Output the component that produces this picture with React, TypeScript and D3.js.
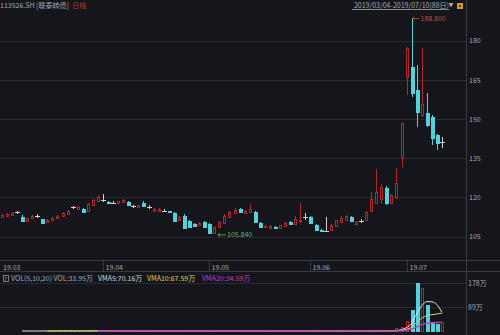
import React from "react";
import * as d3 from "d3";

const W = 500;
const H = 335;

const monthLabels = ["19.03", "19.04", "19.05", "19.06", "19.07"];
const monthStartIdx = [0, 20, 41, 61, 80];
const priceTicks = [105, 120, 135, 150, 165, 180];
const volTicks = [89, 178];
const volTickLabels = ["89万", "178万"];

const open = [
  112.5, 113.0, 113.4, 114.3, 112.6, 111.0, 112.0, 112.9, 111.6, 110.5,
  111.2, 112.0, 113.0, 113.8, 116.2, 115.5, 115.4, 114.8, 117.0, 118.6,
  119.0, 118.4, 117.9, 117.7, 118.3, 118.3, 116.6, 116.4, 118.0, 116.2,
  115.0, 115.0, 114.9, 114.8, 114.0, 111.4, 113.0, 111.0, 109.8, 109.3,
  110.5, 110.0, 106.5, 108.6, 110.3, 112.5, 114.0, 115.6, 114.2, 114.5,
  114.5, 110.2, 108.5, 108.4, 108.8, 108.4, 109.0, 110.5, 110.0, 110.8,
  112.5, 112.5, 109.5, 107.7, 107.2, 107.4, 109.0, 110.5, 111.5, 112.5,
  109.8, 110.8, 111.4, 115.0, 118.0, 119.5, 123.7, 117.9, 120.2, 135.5,
  166.2, 170.0, 161.2, 151.5, 152.4, 150.9, 144.0, 141.3,
];
const high = [
  113.8, 113.9, 114.3, 115.0, 113.2, 112.3, 113.3, 113.6, 111.9, 111.6,
  112.5, 113.3, 114.4, 115.2, 116.9, 116.7, 115.8, 117.8, 119.6, 120.8,
  121.3, 118.8, 118.5, 118.8, 119.4, 118.6, 117.2, 117.3, 118.8, 117.0,
  115.8, 115.9, 115.5, 115.0, 114.4, 112.8, 113.5, 111.5, 110.2, 110.6,
  111.0, 110.4, 109.2, 110.8, 113.5, 115.0, 115.8, 116.0, 115.3, 117.5,
  115.0, 110.6, 109.6, 109.3, 109.1, 109.6, 110.6, 110.9, 113.0, 117.9,
  114.0, 113.0, 109.9, 108.0, 112.4, 109.8, 111.5, 112.8, 113.2, 112.9,
  110.8, 111.6, 115.0, 122.0, 131.0, 125.0, 124.3, 121.5, 131.3, 149.0,
  177.6, 188.8, 170.8, 177.3, 160.0, 151.5, 144.5, 143.0,
];
const low = [
  112.2, 112.7, 113.1, 113.8, 110.8, 110.7, 111.7, 112.3, 110.0, 110.2,
  110.9, 111.7, 112.7, 113.5, 115.5, 115.2, 114.0, 114.5, 116.7, 118.2,
  118.3, 117.6, 117.4, 117.5, 118.0, 116.9, 116.0, 116.1, 116.5, 115.5,
  114.7, 114.7, 114.3, 114.1, 110.5, 111.0, 108.0, 108.5, 108.8, 109.0,
  108.2, 106.2, 105.84, 108.2, 110.0, 112.2, 113.7, 114.3, 113.9, 114.2,
  110.3, 108.5, 108.2, 108.1, 108.2, 108.1, 108.8, 109.5, 109.8, 110.4,
  111.5, 110.0, 107.3, 107.0, 106.8, 107.1, 108.7, 110.2, 111.2, 110.5,
  109.5, 110.3, 111.0, 114.5, 117.5, 117.5, 117.3, 117.5, 119.5, 131.7,
  159.3, 158.5, 147.0, 150.9, 147.0, 140.1, 138.2, 139.0,
];
const close = [
  113.2, 113.6, 114.0, 114.3, 111.0, 112.0, 113.0, 112.9, 110.3, 111.3,
  112.2, 113.0, 114.0, 114.8, 116.2, 116.3, 114.3, 117.5, 119.0, 120.0,
  119.0, 117.9, 117.9, 118.5, 119.0, 117.2, 116.6, 117.0, 116.8, 116.2,
  115.5, 115.6, 114.9, 114.4, 110.8, 112.4, 108.3, 108.8, 109.1, 110.2,
  108.5, 106.5, 108.8, 110.5, 112.8, 114.5, 115.2, 114.6, 115.0, 115.4,
  110.6, 108.8, 109.2, 109.0, 108.5, 109.3, 110.2, 109.8, 111.8, 111.5,
  112.5, 110.4, 107.6, 107.3, 107.2, 109.4, 111.2, 112.2, 112.8, 110.8,
  110.5, 110.8, 114.5, 119.5, 122.0, 124.2, 117.9, 121.0, 125.6, 148.6,
  177.3, 160.2, 152.8, 156.0, 147.8, 142.8, 140.9, 141.3,
];
// 万
const volume = [
  2.1, 1.8, 1.6, 1.5, 2.4, 1.9, 1.7, 1.4, 2.2, 1.8,
  1.9, 2.0, 2.3, 2.1, 1.6, 1.5, 1.8, 2.6, 3.1, 2.8,
  2.4, 1.7, 1.5, 1.6, 1.8, 1.9, 1.4, 1.3, 1.7, 1.5,
  1.2, 1.3, 1.1, 1.2, 2.2, 1.6, 2.8, 2.1, 1.5, 1.4,
  1.9, 2.6, 2.4, 2.0, 2.2, 2.1, 1.8, 1.5, 1.4, 1.6,
  2.3, 1.9, 1.2, 1.1, 1.0, 1.1, 1.2, 1.1, 1.4, 1.9,
  1.3, 1.2, 1.5, 1.1, 1.3, 1.2, 1.4, 1.3, 1.2, 1.0,
  1.3, 1.1, 1.5, 1.8, 2.0, 2.2, 1.9, 1.9, 11.1, 18,
  40, 78, 178, 160, 95.85, 35, 26, 33.95,
];

const BG = "#15161b";
const GRID = "#2a2b31";
const AXIS = "#3a3b42";
const TXT = "#a8a8ad";
const RED = "#b3262c";
const CYAN = "#52d3dc";
const DOJI = "#d0d0d0";
const FONT = "'Noto Sans CJK SC', 'Noto Sans', sans-serif";

export default function App() {
  const n = close.length;
  const x = d3.scaleLinear().domain([0, n - 1]).range([1.8, 442]);
  const y = d3.scaleLinear().domain([105, 180]).range([236.6, 40.9]);
  const yv = d3.scaleLinear().domain([0, 178]).range([331.5, 283.2]);

  const ma = (k: number) =>
    volume.map((_, i) => (i < k - 1 ? null : (d3.mean(volume.slice(i - k + 1, i + 1)) as number)));
  const vma5 = ma(5);
  const vma10 = ma(10);
  const vma20 = ma(20);
  const vline = d3
    .line<number | null>()
    .defined((d) => d != null)
    .x((_, i) => x(i))
    .y((d) => yv(d as number))
    .curve(d3.curveMonotoneX);

  const candles = close.map((c, i) => {
    const o = open[i];
    const px = Math.round(x(i));
    const yh = Math.round(y(high[i]));
    const yl = Math.round(y(low[i]));
    const yo = Math.round(y(o));
    const yc = Math.round(y(c));
    if (c === o) {
      return (
        <g key={i} stroke={DOJI} strokeWidth={1}>
          <line x1={px + 0.5} x2={px + 0.5} y1={yh} y2={yl} />
          <line x1={px - 2} x2={px + 3} y1={yc + 0.5} y2={yc + 0.5} />
        </g>
      );
    }
    if (c > o) {
      const top = yc;
      const bot = Math.max(yo, yc + 1);
      return (
        <g key={i} stroke={RED} strokeWidth={1}>
          <line x1={px + 0.5} x2={px + 0.5} y1={yh} y2={top} />
          <line x1={px + 0.5} x2={px + 0.5} y1={bot + 1} y2={yl} />
          <rect x={px - 1 + 0.5} y={top + 0.5} width={2} height={bot - top} fill={BG} />
        </g>
      );
    }
    const top = yo;
    const bot = Math.max(yc, yo + 1);
    return (
      <g key={i}>
        <line x1={px + 0.5} x2={px + 0.5} y1={yh} y2={yl} stroke={CYAN} strokeWidth={1} />
        <rect x={px - 1} y={top} width={4} height={bot - top + 1} fill={CYAN} />
      </g>
    );
  });

  const vbars = volume.map((v, i) => {
    const px = Math.round(x(i));
    const yt = Math.round(yv(v));
    const up = close[i] >= open[i];
    const hgt = Math.max(332 - yt, 0);
    if (hgt < 2) return null;
    if (up) {
      return (
        <rect key={i} x={px - 1 + 0.5} y={yt + 0.5} width={2} height={Math.max(hgt - 1, 0)} fill="none" stroke={RED} strokeWidth={1} />
      );
    }
    return <rect key={i} x={px - 1} y={yt} width={4} height={hgt} fill={CYAN} />;
  });

  const iMax = high.indexOf(d3.max(high) as number);
  const iMin = low.indexOf(d3.min(low) as number);
  const maxY = y(high[iMax]);
  const minY = y(low[iMin]);
  const hx = Math.round(x(iMax)) + 0.5;
  const lx = Math.round(x(iMin)) + 4;

  return (
    <svg
      width={W}
      height={H}
      style={{ position: "absolute", left: 0, top: 0, display: "block" }}
      fontFamily={FONT}
    >
      <rect x={0} y={0} width={W} height={H} fill={BG} />

      {/* header */}
      <text x={0} y={8} fontSize={7} fill={TXT}>113526.SH [联泰转债]</text>
      <text x={72} y={8} fontSize={7} fill="#d0312d">日线</text>
      <text x={449} y={8} fontSize={7} fill={TXT} textAnchor="end">2019/03/04-2019/07/10(88日)</text>
      <line x1={352} x2={449} y1={9.5} y2={9.5} stroke={TXT} strokeWidth={0.8} />
      <path d="M448.5,3 L453.5,3 L451,7.5 Z" fill={TXT} />
      <rect x={457} y={3} width={6} height={6} fill="#d99a2b" />
      <rect x={459} y={5} width={2} height={2} fill="#5a3a10" />

      {/* price grid */}
      {priceTicks.map((t) => (
        <g key={t}>
          <line x1={0} x2={466} y1={Math.round(y(t)) + 0.5} y2={Math.round(y(t)) + 0.5} stroke={GRID} strokeWidth={1} />
          <text x={469} y={y(t) + 2.5} fontSize={7} fill={TXT}>{t}</text>
        </g>
      ))}
      <line x1={466.5} x2={466.5} y1={0} y2={H} stroke={AXIS} strokeWidth={1} />

      {/* candles */}
      <g>{candles}</g>

      {/* annotations */}
      <g stroke="#d9423a" strokeWidth={0.8} fill="none">
        <line x1={hx} x2={hx + 7} y1={maxY + 0.5} y2={maxY + 0.5} />
        <path d={`M${hx + 2},${maxY - 1.5} L${hx},${maxY + 0.5} L${hx + 2},${maxY + 2.5}`} />
      </g>
      <text x={hx + 8} y={maxY + 3} fontSize={7} fill="#d9423a">188.800</text>
      <g stroke="#5cbf5c" strokeWidth={0.8} fill="none">
        <line x1={lx} x2={lx + 8} y1={minY + 0.5} y2={minY + 0.5} />
        <path d={`M${lx + 2},${minY - 1.5} L${lx},${minY + 0.5} L${lx + 2},${minY + 2.5}`} />
      </g>
      <text x={lx + 9} y={minY + 3} fontSize={7} fill="#5cbf5c">105.840</text>

      {/* date axis */}
      <line x1={0} x2={W} y1={260.5} y2={260.5} stroke={AXIS} strokeWidth={1} />
      <line x1={0} x2={W} y1={271.5} y2={271.5} stroke={AXIS} strokeWidth={1} />
      {monthStartIdx.map((mi, k) => {
        const tx = Math.round(x(mi)) + 0.5;
        return (
          <g key={k}>
            {k > 0 && <line x1={tx} x2={tx} y1={260} y2={271} stroke={AXIS} strokeWidth={1} />}
            <text x={k === 0 ? 3 : tx + 2} y={269.5} fontSize={7} fill={TXT}>{monthLabels[k]}</text>
          </g>
        );
      })}

      {/* volume panel */}
      {volTicks.map((t, k) => (
        <g key={t}>
          <line x1={0} x2={466} y1={Math.round(yv(t)) + 0.5} y2={Math.round(yv(t)) + 0.5} stroke={GRID} strokeWidth={1} />
          <text x={468} y={yv(t) + 2.5} fontSize={7} fill={TXT}>{volTickLabels[k]}</text>
        </g>
      ))}
      <rect x={3.5} y={275.5} width={5} height={6} fill="none" stroke={TXT} strokeWidth={0.7} />
      <text x={4.3} y={280.6} fontSize={5} fill={TXT}>?</text>
      <text x={11} y={281} fontSize={7} fill={TXT}>VOL(5,10,20) VOL:33.95万</text>
      <text x={98} y={281} fontSize={7} fill="#d8d8d8">VMA5:70.16万</text>
      <text x={147} y={281} fontSize={7} fill="#d6d65e">VMA10:67.59万</text>
      <text x={202} y={281} fontSize={7} fill="#c43cc4">VMA20:34.59万</text>

      <g>{vbars}</g>
      <path d={vline(vma5) || ""} fill="none" stroke="#e6e6e6" strokeWidth={1} />
      <path d={vline(vma10) || ""} fill="none" stroke="#d6d65e" strokeWidth={1} />
      <path d={vline(vma20) || ""} fill="none" stroke="#c43cc4" strokeWidth={1.4} />
    </svg>
  );
}
